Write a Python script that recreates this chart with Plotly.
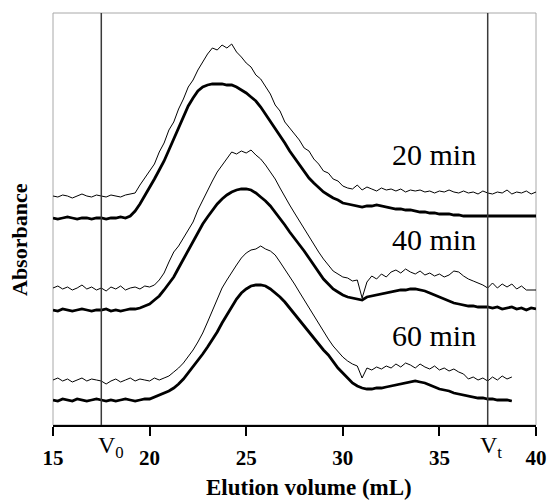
import plotly.graph_objects as go

# ---------------- data (elution volume grid: 15 mL, step 0.25 mL) ----------------
X_START = 15.0
X_STEP = 0.25

thin_20 = [
    229, 228, 230, 229, 227, 229, 231, 229, 228, 230,
    229, 228, 230, 229, 228, 230, 231, 232, 240, 247,
    254, 261, 273, 282, 295, 303, 316, 326, 338, 345,
    355, 363, 371, 377, 375, 380, 377, 381, 373, 368,
    362, 358, 350, 346, 338, 331, 320, 314, 303, 297,
    290, 285, 277, 274, 266, 261, 254, 252, 246, 244,
    239, 237, 236, 240, 235, 238, 236, 234, 237, 235,
    236, 234, 236, 233, 235, 234, 235, 233, 234, 232,
    234, 233, 235, 233, 232, 234, 232, 233, 231, 234,
    232, 231, 233, 232, 235, 231, 233, 232, 234, 231,
    233,
]
thick_20 = [
    207, 206, 207, 208, 207, 206, 207, 207, 206, 207,
    207, 206, 207, 207, 208, 207, 209, 214, 221, 229,
    237, 246, 255, 264, 275, 286, 297, 307, 319, 327,
    334, 338, 340, 341, 341, 341, 340, 340, 338, 335,
    332, 328, 324, 318, 311, 304, 297, 290, 282, 274,
    267, 260, 254, 247, 242, 237, 233, 230, 227, 225,
    222, 221, 220, 219, 218, 219, 219, 220, 219, 218,
    217, 216, 216, 215, 215, 214, 213, 213, 212, 212,
    211, 211, 211, 210, 210, 209, 209, 209, 209, 209,
    209, 209, 209, 209, 209, 209, 209, 209, 209, 209,
    209,
]
thin_40 = [
    137, 139, 136, 138, 135, 137, 140, 136, 138, 135,
    137, 134, 138, 136, 139, 135, 137, 138, 136, 139,
    138, 140, 145, 152, 163, 173, 179, 187, 195, 203,
    215, 225, 235, 244, 253, 260, 267, 273, 271, 274,
    272, 275, 270, 266, 260, 253, 246, 237, 228, 220,
    212, 204, 196, 188, 180, 173, 166, 160, 154, 151,
    148, 147, 144, 145, 127, 143, 149, 146, 151, 148,
    153, 155, 152, 156, 153, 151, 154, 150, 152, 149,
    151, 148, 150, 154, 153, 149, 146, 144, 142, 140,
    137, 142, 137, 141, 138, 141, 136, 139, 135, 135,
    135,
]
thick_40 = [
    115, 114, 116, 115, 114, 115, 116, 115, 114, 115,
    115, 116, 114, 115, 114, 115, 116, 116, 117, 119,
    121, 125, 129, 135, 141, 148, 157, 166, 175, 183,
    192, 201, 208, 215, 221, 226, 230, 233, 235, 236,
    236, 235, 232, 228, 224, 219, 213, 207, 200, 193,
    187, 180, 174, 167, 160, 153, 146, 141, 136, 133,
    130, 128, 127, 126, 125, 128, 129, 130, 131, 132,
    133, 134, 135, 135, 136, 136, 135, 134, 132, 130,
    128, 126, 124, 122, 121, 120, 119, 119, 118, 118,
    118, 117, 118, 116, 117, 118, 116, 117, 115, 117,
    116,
]
thin_60 = [
    45, 47, 44, 46, 43, 45, 47, 44, 46, 45,
    44, 41, 44, 46, 43, 45, 47, 44, 46, 45,
    44, 47, 45, 47, 49, 53, 57, 62, 68, 75,
    83, 92, 103, 114, 125, 137, 145, 153, 160, 167,
    172, 175, 176, 179, 176, 174, 170, 163, 156, 148,
    141, 133, 125, 117, 109, 101, 93, 86, 79, 73,
    68, 64, 61, 59, 47, 57, 55, 58, 56, 59,
    57, 61, 58, 62, 60, 57, 61, 58, 56, 59,
    55, 57, 54, 56, 53, 51, 46, 48, 45, 47,
    44, 48, 45, 49, 46, 48,
]
thick_60 = [
    25, 24, 26, 25, 24, 26, 25, 24, 25, 26,
    25, 24, 25, 24, 25, 26, 25, 24, 25, 26,
    26, 28, 30, 32, 34, 37, 41, 46, 52, 58,
    64, 71, 78, 85, 93, 102, 110, 118, 126, 132,
    136, 139, 140, 140, 139, 136, 132, 128, 123, 117,
    111, 105, 98, 92, 86, 80, 75, 70, 63, 57,
    52, 47, 42, 39, 37, 36, 36, 37, 37, 38,
    39, 40, 41, 42, 43, 44, 43, 42, 40, 38,
    36, 35, 34, 32, 31, 30, 29, 28, 27, 27,
    26, 26, 25, 25, 25, 24,
]

x_ticks = [15, 20, 25, 30, 35, 40]
x_tick_labels = ["15", "20", "25", "30", "35", "40"]
V0 = 17.5
Vt = 37.5
time_labels = ["20 min", "40 min", "60 min"]
time_label_y = [271, 186, 90]
time_label_x = 34.7


def xgrid(n):
    return [X_START + X_STEP * i for i in range(n)]


SERIF = "Liberation Serif, Times New Roman, serif"

fig = go.Figure()
series = [
    (thin_20, 1.0), (thick_20, 2.8),
    (thin_40, 1.0), (thick_40, 2.8),
    (thin_60, 1.0), (thick_60, 2.8),
]
for ys, w in series:
    fig.add_trace(go.Scatter(
        x=xgrid(len(ys)), y=ys, mode="lines",
        line=dict(color="black", width=w),
        hoverinfo="skip", showlegend=False,
    ))

# plot frame (gray) and elution markers
fig.add_shape(type="rect", xref="paper", yref="paper", x0=0, x1=1, y0=0, y1=1,
              line=dict(color="#a8a8a8", width=1), layer="below")
for v in (V0, Vt):
    fig.add_shape(type="line", xref="x", yref="paper", x0=v, x1=v, y0=0, y1=1,
                  line=dict(color="#3a3a3a", width=1.5))

annotations = []
for t, yv in zip(time_labels, time_label_y):
    annotations.append(dict(x=time_label_x, y=yv, xref="x", yref="y", text=t,
                            showarrow=False, xanchor="center", yanchor="middle",
                            font=dict(family=SERIF, size=30, color="black")))
annotations.append(dict(x=V0, xref="x", xshift=-5, y=0, yref="paper", yshift=-22,
                        text="V<sub>0</sub>", showarrow=False, xanchor="left",
                        yanchor="middle", font=dict(family=SERIF, size=24, color="black")))
annotations.append(dict(x=Vt, xref="x", xshift=-10, y=0, yref="paper", yshift=-22,
                        text="V<sub>t</sub>", showarrow=False, xanchor="left",
                        yanchor="middle", font=dict(family=SERIF, size=24, color="black")))
annotations.append(dict(x=0.5295, xref="paper", y=0, yref="paper", yshift=-77,
                        text="<b>Elution volume (mL)</b>", showarrow=False,
                        xanchor="center", yanchor="bottom",
                        font=dict(family=SERIF, size=23, color="black")))
annotations.append(dict(x=0, xref="paper", xshift=-34, y=0.449, yref="paper",
                        text="<b>Absorbance</b>", showarrow=False, textangle=-90,
                        xanchor="center", yanchor="middle",
                        font=dict(family=SERIF, size=22, color="black")))

fig.update_layout(
    width=547, height=502,
    margin=dict(l=53, r=11, t=13, b=77, pad=0),
    paper_bgcolor="white", plot_bgcolor="white",
    annotations=annotations,
    xaxis=dict(range=[15, 40], tickvals=x_ticks, ticktext=x_tick_labels,
               ticks="outside", ticklen=9, tickwidth=1.5, tickcolor="black",
               showline=True, linecolor="black", linewidth=1.5,
               showgrid=False, zeroline=False, automargin=False,
               ticklabelstandoff=4,
               tickfont=dict(family=SERIF, size=21, color="black", weight="bold")),
    yaxis=dict(range=[0, 412], showticklabels=False, ticks="", automargin=False,
               showgrid=False, zeroline=False, showline=False),
)

fig.write_html("out.html", config={"displayModeBar": False},
               post_script="document.body.style.margin='0';document.body.style.overflow='hidden';")
